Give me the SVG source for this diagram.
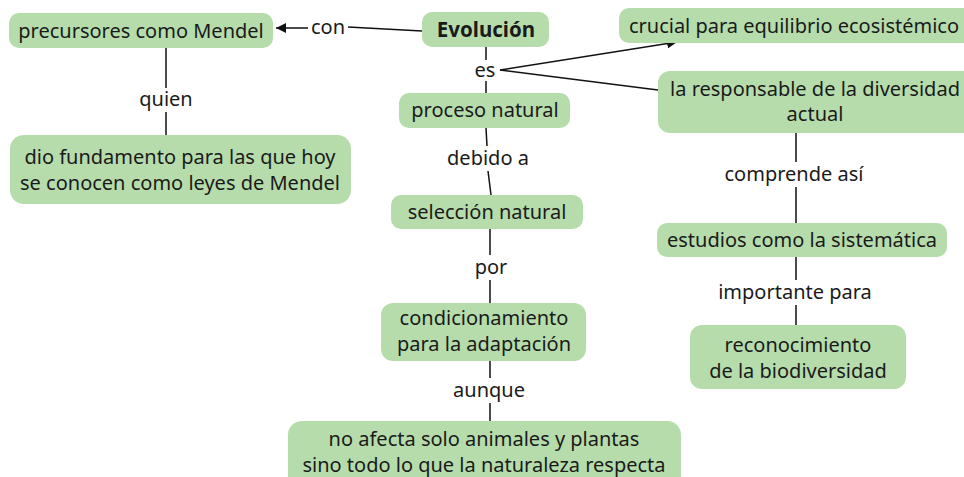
<svg xmlns="http://www.w3.org/2000/svg" width="964" height="477" viewBox="0 0 964 477">
<style>
.n{fill:#b6dcac;}
.t{font-family:"Noto Sans",Lato,sans-serif;font-size:20px;fill:#1a1a1a;text-anchor:middle;}
.b{font-weight:bold;font-size:20.5px;}
.c{stroke:#111;stroke-width:1.5;fill:none;}
</style>
<defs>
<marker id="ah" viewBox="0 0 10 10" refX="10" refY="5" markerWidth="10" markerHeight="10" markerUnits="userSpaceOnUse" orient="auto"><path d="M0,0L10,5L0,10z" fill="#111"/></marker>
</defs>
<rect width="964" height="477" fill="#fff"/>
<g id="connectors">
<path class="c" d="M422,31L348,27"/>
<path class="c" d="M308,28L276,28" marker-end="url(#ah)"/>
<text class="t" x="328" y="34">con</text>
<path class="c" d="M166,48V88M166,112V135"/>
<text class="t" x="166" y="106">quien</text>
<path class="c" d="M486,47V60M486,81V93"/>
<text class="t" x="485" y="77">es</text>
<path class="c" d="M500,70L677,42" marker-end="url(#ah)"/>
<path class="c" d="M500,70L658,90"/>
<path class="c" d="M486,128L487,146M488,171L491,195"/>
<text class="t" x="488" y="165">debido a</text>
<path class="c" d="M490,229V255M490,280V303"/>
<text class="t" x="491" y="274">por</text>
<path class="c" d="M490,361V378M490,403V421"/>
<text class="t" x="489" y="397">aunque</text>
<path class="c" d="M796,133V162M796,187V223"/>
<text class="t" x="794" y="181">comprende así</text>
<path class="c" d="M796,257V280M796,305V325"/>
<text class="t" x="795" y="299">importante para</text>
</g>
<g id="evolucion"><rect class="n" x="422" y="12" width="127" height="35" rx="10"/><text class="t b" x="486" y="37">Evolución</text></g>
<g id="precursores"><rect class="n" x="9" y="13" width="264" height="35" rx="10"/><text class="t" x="141" y="38">precursores como Mendel</text></g>
<g id="dio"><rect class="n" x="10" y="135" width="341" height="69" rx="14"/><text class="t" x="180" y="164">dio fundamento para las que hoy</text><text class="t" x="180" y="190">se conocen como leyes de Mendel</text></g>
<g id="crucial"><rect class="n" x="619" y="8" width="360" height="35" rx="10"/><text class="t" x="794" y="33">crucial para equilibrio ecosistémico</text></g>
<g id="responsable"><rect class="n" x="658" y="71" width="320" height="62" rx="12"/><text class="t" x="815" y="96">la responsable de la diversidad</text><text class="t" x="815" y="121">actual</text></g>
<g id="proceso"><rect class="n" x="399" y="93" width="171" height="35" rx="10"/><text class="t" x="485" y="117">proceso natural</text></g>
<g id="seleccion"><rect class="n" x="391" y="195" width="192" height="34" rx="10"/><text class="t" x="487" y="219">selección natural</text></g>
<g id="condicionamiento"><rect class="n" x="381" y="303" width="205" height="58" rx="12"/><text class="t" x="484" y="325">condicionamiento</text><text class="t" x="484" y="351">para la adaptación</text></g>
<g id="noafecta"><rect class="n" x="288" y="421" width="393" height="70" rx="14"/><text class="t" x="484" y="446">no afecta solo animales y plantas</text><text class="t" x="484" y="472">sino todo lo que la naturaleza respecta</text></g>
<g id="estudios"><rect class="n" x="657" y="223" width="290" height="34" rx="10"/><text class="t" x="802" y="247">estudios como la sistemática</text></g>
<g id="reconocimiento"><rect class="n" x="690" y="325" width="216" height="64" rx="12"/><text class="t" x="798" y="352">reconocimiento</text><text class="t" x="798" y="378">de la biodiversidad</text></g>
</svg>
